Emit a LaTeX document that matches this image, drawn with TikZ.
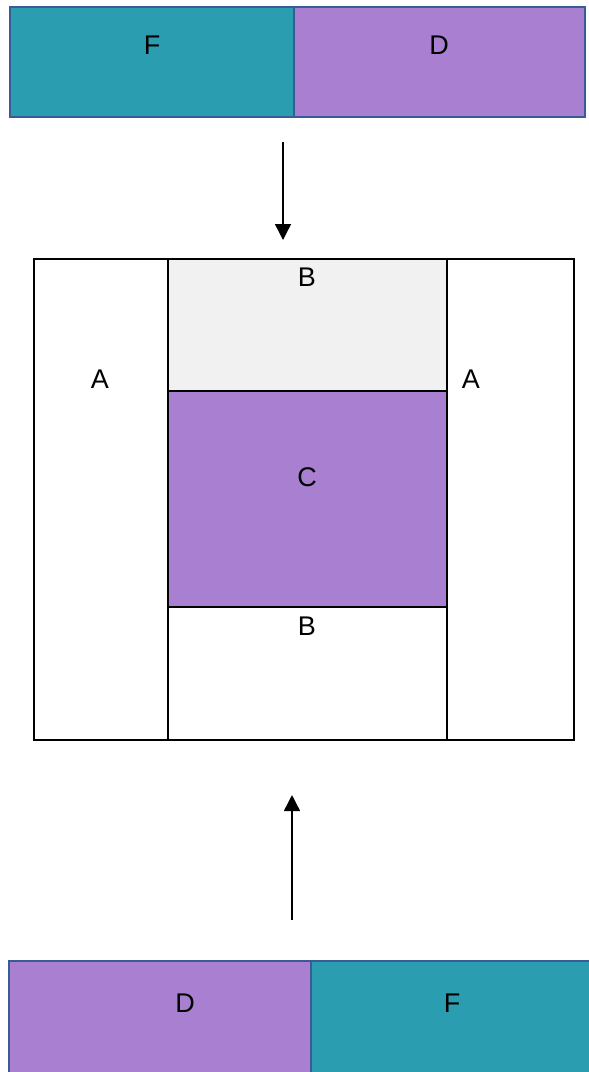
\documentclass[tikz,border=0pt]{standalone}
\usepackage{fontspec}
\setmainfont{Liberation Sans}
\usetikzlibrary{arrows.meta}

\definecolor{tealfill}{HTML}{2A9DB0}
\definecolor{violetfill}{HTML}{A87FD1}
\definecolor{barline}{HTML}{3A5C96}
\definecolor{paleback}{HTML}{F1F1F1}

\begin{document}
\begin{tikzpicture}[
    x=1pt, y=-1pt,
    every node/.style={font=\fontsize{27}{32}\selectfont},
    bar/.style={draw=barline, line width=2pt, inner sep=0pt},
    cell/.style={draw=black, line width=1.6pt, inner sep=0pt},
    flow/.style={line width=1.4pt, -{Triangle[width=16pt,length=16pt]}}
]
\clip (0,0) rectangle (589,1072);

% Top bar
\node (ftop) [bar, fill=tealfill, minimum width=284, minimum height=110] at (152,62) {};
\node (dtop) [bar, fill=violetfill, minimum width=291, minimum height=110] at (439.5,62) {};
\node (ftoplab) at (152,45) {F};
\node (dtoplab) at (439,45) {D};

% Block
\node (aleft) [cell, minimum width=134, minimum height=481] at (101,499.5) {};
\node (aright) [cell, minimum width=127, minimum height=481] at (510.5,499.5) {};
\node (bup) [cell, fill=paleback, minimum width=279, minimum height=132] at (307.5,325) {};
\node (cmid) [cell, fill=violetfill, minimum width=279, minimum height=216] at (307.5,499) {};
\node (bdown) [cell, minimum width=279, minimum height=133] at (307.5,673.5) {};

\node (aleftlab) at (100,379) {A};
\node (arightlab) at (471,379) {A};
\node (buplab) at (307,277) {B};
\node (cmidlab) at (307,477) {C};
\node (bdownlab) at (307,626) {B};

% Bottom bar
\node (dbot) [bar, fill=violetfill, minimum width=302, minimum height=130] at (160,1026) {};
\node (fbot) [bar, fill=tealfill, minimum width=300, minimum height=130] at (461,1026) {};
\node (dbotlab) at (185,1003) {D};
\node (fbotlab) at (452,1003) {F};

% Arrows
\coordinate (topstart) at (283,142);
\coordinate (topend) at (283,240);
\coordinate (botstart) at (292,920);
\coordinate (botend) at (292,795);

\draw[flow] (topstart) -- (topend);
\draw[flow] (botstart) -- (botend);

\end{tikzpicture}
\end{document}
